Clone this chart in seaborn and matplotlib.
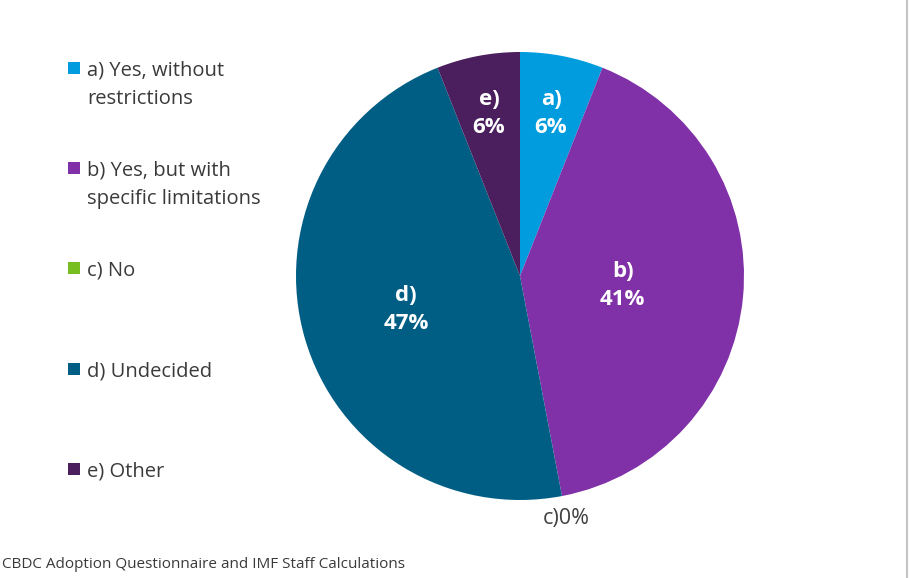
import matplotlib
matplotlib.use("Agg")
import matplotlib.pyplot as plt
import numpy as np
import seaborn as sns
from matplotlib.lines import Line2D
from matplotlib.patches import Rectangle

# data
letters = ["a", "b", "c", "d", "e"]
answers = [
    "a) Yes, without\nrestrictions",
    "b) Yes, but with\nspecific limitations",
    "c) No",
    "d) Undecided",
    "e) Other",
]
shares = [6, 41, 0, 47, 6]
colors = ["#009CDE", "#8031A7", "#78BE20", "#005E85", "#4B1E5E"]
source = "CBDC Adoption Questionnaire and IMF Staff Calculations"

# label distance from centre (fraction of radius), per slice
label_dist = [0.74, 0.46, 1.1, 0.53, 0.74]

sns.set_theme(style="white")
plt.rcParams["font.family"] = ["Open Sans", "DejaVu Sans"]

W, H = 911, 578
fig = plt.figure(figsize=(W / 100, H / 100), dpi=100)
fig.patch.set_facecolor("white")

# pie: centre and radius in pixels
cx, cy, r = 520, 276, 224
ax = fig.add_axes([(cx - r) / W, (H - cy - r) / H, 2 * r / W, 2 * r / H])
palette = sns.color_palette(colors)
wedges, _ = ax.pie(shares, colors=palette, startangle=90, counterclock=False,
                   radius=1, wedgeprops={"linewidth": 0})
ax.set_xlim(-1, 1)
ax.set_ylim(-1, 1)

for w, letter, val, d in zip(wedges, letters, shares, label_dist):
    theta = np.deg2rad((w.theta1 + w.theta2) / 2)
    x, y = d * np.cos(theta), d * np.sin(theta)
    if val == 0:
        ax.text(x, y, f"{letter}){val}%", ha="center", va="center",
                fontsize=15.5, color="#404040")
    else:
        ax.text(x, y, f"{letter})\n{val}%", ha="center", va="center",
                fontsize=16, fontweight="bold", color="white", linespacing=1.45)

# legend on the left, drawn by hand so entries stay evenly spaced
for i, (label, c) in enumerate(zip(answers, palette)):
    yc = 68 + 100.2 * i
    fig.add_artist(Rectangle((68 / W, 1 - (yc + 6) / H), 12 / W, 12 / H,
                             transform=fig.transFigure, color=c, lw=0))
    for j, line in enumerate(label.split("\n")):
        fig.text(87 / W, 1 - (yc + 28.5 * j) / H, line, va="center_baseline",
                 ha="left", fontsize=14.5, color="#3a3a3a")

fig.text(2 / W, 1 - 565 / H, source, va="center", ha="left",
         fontsize=11, color="#3a3a3a")

# thin grey border at the right edge
fig.add_artist(Line2D([907 / W, 907 / W], [0, 1], transform=fig.transFigure,
                      color="#c4c4c4", lw=1.5))

fig.savefig("out.png", dpi=100)
